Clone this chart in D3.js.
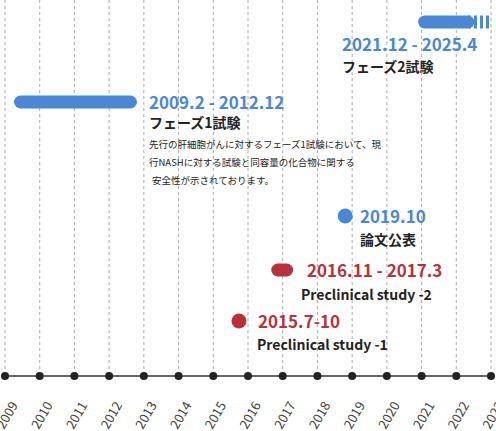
<!DOCTYPE html>
<html><head><meta charset="utf-8">
<script src="https://cdn.jsdelivr.net/npm/d3@7"></script>
<style>body{margin:0;background:#fff}text{font-family:"Noto Sans CJK JP","Noto Sans",sans-serif}</style>
</head><body>
<script>
var w = 496, h = 431;
var years = d3.range(2009, 2024);
var phases = ["2009.2 - 2012.12", "2021.12 - 2025.4", "2019.10", "2016.11 - 2017.3", "2015.7-10"];
// mark extents as drawn on the chart, in decimal years along the axis
var posStart = [2009.26, 2020.9, 2018.8, 2016.67, 2015.74];
var posEnd = [2012.8, 2023, 2018.8, 2017.3, 2015.74];
var titles = ["フェーズ1試験", "フェーズ2試験", "論文公表", "Preclinical study -2", "Preclinical study -1"];
var kinds = ["blue", "blue", "blue", "red", "red"];
var rows = [102, 22, 216, 270, 321];
var notes = ["先行の肝細胞がんに対するフェーズ1試験において、現", "行NASHに対する試験と同容量の化合物に関する", "安全性が示されております。"];

var color = {blue: "#4a87d6", red: "#b8313d"};
var svg = d3.select("body").append("svg").attr("width", w).attr("height", h);
var x = d3.scaleLinear().domain([2009, 2023]).range([5, 491]);
var axisY = 376;

// dashed grid
svg.selectAll(".grid").data(years).enter().append("line")
  .attr("x1", d => x(d)).attr("x2", d => x(d)).attr("y1", 0).attr("y2", axisY)
  .attr("stroke", "#aaa").attr("stroke-dasharray", "3,3");
svg.append("line").attr("x1", x(2009)).attr("x2", x(2023)).attr("y1", axisY).attr("y2", axisY)
  .attr("stroke", "#333").attr("stroke-width", 1.5);
svg.selectAll(".dot").data(years).enter().append("circle")
  .attr("cx", d => x(d)).attr("cy", axisY).attr("r", 4).attr("fill", "#222");
svg.selectAll(".yl").data(years).enter().append("text")
  .attr("transform", d => "translate(" + (x(d) - 1) + ",430) rotate(-60)")
  .attr("font-size", 13).attr("fill", "#444").text(d => d);

phases.forEach(function(p, i) {
  var x0 = x(posStart[i]), x1 = x(posEnd[i]), y = rows[i], c = color[kinds[i]];
  if (x1 - x0 < 1) {
    svg.append("circle").attr("cx", x0).attr("cy", y).attr("r", 7.5).attr("fill", c);
    return;
  }
  var cut = i == 1;
  var end = cut ? x1 - 23 : x1 - 6.5;
  svg.append("line").attr("x1", x0 + 6.5).attr("x2", end).attr("y1", y).attr("y2", y)
    .attr("stroke", c).attr("stroke-width", 13).attr("stroke-linecap", "round");
  if (cut) {
    svg.append("rect").attr("x", end).attr("y", y - 6.5).attr("width", x1 - 20 - end).attr("height", 13).attr("fill", c);
    [x1 - 17, x1 - 11, x1 - 5].forEach(function(s) {
      svg.append("rect").attr("x", s).attr("y", y - 6.5).attr("width", 3).attr("height", 13).attr("fill", c);
    });
  }
});

// labels
var lab = [[149, 109], [342, 51], [360, 223], [307, 277], [258, 328]];
var tit = [[149, 128], [342, 72], [360, 245], [301, 300], [257, 350]];
phases.forEach(function(p, i) {
  svg.append("text").attr("x", lab[i][0]).attr("y", lab[i][1]).attr("font-size", 17).attr("font-weight", "bold")
    .attr("fill", color[kinds[i]]).text(p);
  svg.append("text").attr("x", tit[i][0]).attr("y", tit[i][1]).attr("font-size", 14).attr("font-weight", "bold")
    .attr("fill", "#222").text(titles[i]);
});
svg.selectAll(".note").data(notes).enter().append("text")
  .attr("x", (d, i) => i == 2 ? 152 : 149).attr("y", (d, i) => 148 + i * 18)
  .attr("font-size", 9.5).attr("fill", "#222").text(d => d);
</script>
</body></html>
